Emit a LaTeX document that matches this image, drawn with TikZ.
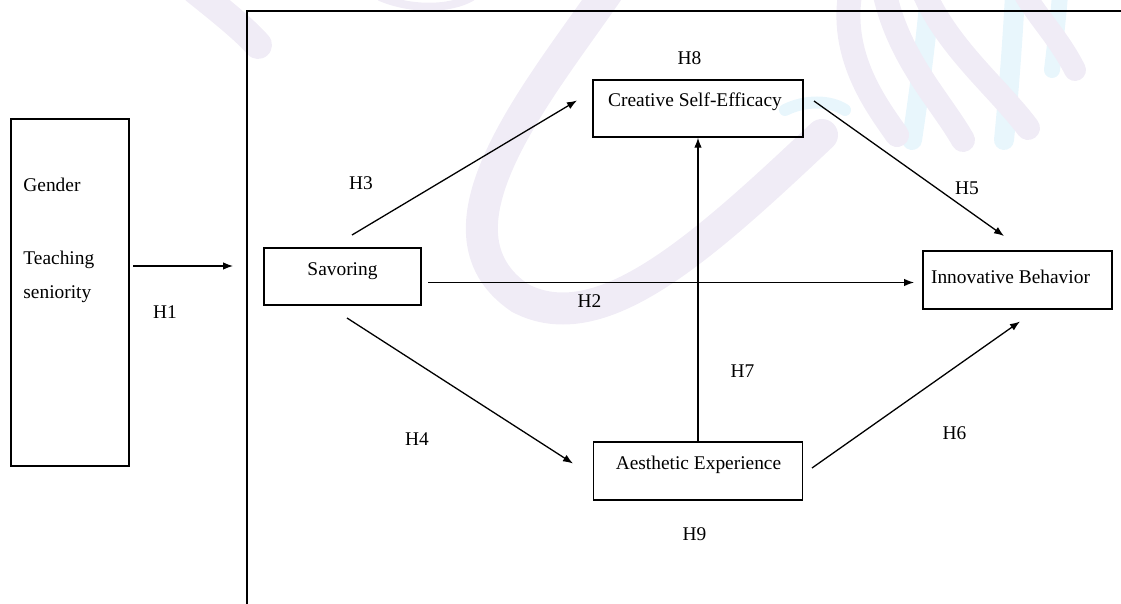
\documentclass[tikz,border=0pt]{standalone}
\usepackage{fontspec}
\setmainfont{Liberation Serif}
\usetikzlibrary{arrows.meta}
\definecolor{wmlav}{RGB}{240,236,246}
\definecolor{wmcyan}{RGB}{232,246,252}
\begin{document}
\begin{tikzpicture}[x=0.5pt,y=-0.5pt,
  box/.style={draw, line width=0.75pt, inner sep=0pt},
  txt/.style={inner sep=0pt, font=\fontsize{9.7}{11}\selectfont},
  arr/.style={-{Latex[length=5pt,width=3.8pt]}, line width=0.65pt},
  band/.style={line width=#1, line cap=round}]
\useasboundingbox (0,0) rectangle (1121,604);

% faint logo in the background
\begin{scope}
  \draw[band=14pt, wmlav] (195,-10) .. controls (220,10) and (245,30) .. (258,45);
  \draw[band=4pt, wmlav] (380,-3) .. controls (410,10) and (450,10) .. (472,-3);
  \draw[band=16pt, wmlav] (612,-15) .. controls (540,90) and (420,230) .. (520,298)
        .. controls (600,340) and (700,250) .. (822,135);
  \draw[band=10pt, wmcyan] (930,-5) .. controls (925,50) and (918,100) .. (912,140);
  \draw[band=10pt, wmcyan] (1015,-5) .. controls (1012,50) and (1008,100) .. (1004,140);
  \draw[band=8pt, wmcyan] (1060,-5) .. controls (1058,20) and (1055,45) .. (1052,70);
  \draw[band=6pt, wmcyan] (785,110) .. controls (805,100) and (830,100) .. (845,110);
  \draw[band=12pt, wmlav] (850,-5) .. controls (840,60) and (880,110) .. (897,135);
  \draw[band=12pt, wmlav] (885,-5) .. controls (900,60) and (940,100) .. (963,140);
  \draw[band=12pt, wmlav] (925,-5) .. controls (950,50) and (1000,90) .. (1028,128);
  \draw[band=11pt, wmlav] (1025,-5) .. controls (1040,20) and (1060,40) .. (1075,70);
\end{scope}

% outer frame (top and left sides)
\draw[line width=0.7pt] (1121,11) -- (247,11) -- (247,604);

% control variables
\node[box, minimum width=59pt, minimum height=173.5pt] (ctrl) at (70,292.5) {};
\node[txt, anchor=base west] (gender) at (23,192) {Gender};
\node[txt, anchor=base west] (teach) at (23,265) {Teaching};
\node[txt, anchor=base west] (senior) at (23,299) {seniority};

% construct boxes
\node[box, minimum width=78.5pt, minimum height=28.5pt] (sav) at (342.5,276.5) {};
\node[box, minimum width=105pt, minimum height=28.5pt] (cse) at (698,108.5) {};
\node[box, minimum width=94.5pt, minimum height=29pt] (ib) at (1017.5,280) {};
\node[box, minimum width=104.5pt, minimum height=29pt] (ae) at (698,471) {};

\node[txt, anchor=base] (savt) at (342.5,276) {Savoring};
\node[txt, anchor=base] (cset) at (695,107) {Creative Self-Efficacy};
\node[txt, anchor=base] (ibt) at (1010.5,284) {Innovative Behavior};
\node[txt, anchor=base] (aet) at (698.5,470) {Aesthetic Experience};

% connector end points
\coordinate (h1s) at (133,266);  \coordinate (h1e) at (233,266);
\coordinate (h3s) at (352,235);  \coordinate (h3e) at (577,100.5);
\coordinate (h5s) at (814,101);  \coordinate (h5e) at (1004,236);
\coordinate (h2s) at (428,282.5); \coordinate (h2e) at (914,282.5);
\coordinate (h4s) at (347,318);  \coordinate (h4e) at (573,463.5);
\coordinate (h6s) at (812,468);  \coordinate (h6e) at (1020,321.5);

\draw[arr] (h1s) -- (h1e);
\draw[arr] (h3s) -- (h3e);
\draw[arr] (h5s) -- (h5e);
\draw[arr] (h2s) -- (h2e);
\draw[arr] (h4s) -- (h4e);
\draw[arr] (h6s) -- (h6e);
\draw[arr] (ae.north) -- (cse.south);

% hypothesis labels
\node[txt] (H1) at (165,312) {H1};
\node[txt] (H2) at (589.5,301) {H2};
\node[txt] (H3) at (361,183) {H3};
\node[txt] (H4) at (417,439.5) {H4};
\node[txt] (H5) at (967,188) {H5};
\node[txt] (H6) at (954.5,433.5) {H6};
\node[txt] (H7) at (742.5,371.5) {H7};
\node[txt] (H8) at (689.5,58.5) {H8};
\node[txt] (H9) at (694.5,534.5) {H9};
\end{tikzpicture}
\end{document}
